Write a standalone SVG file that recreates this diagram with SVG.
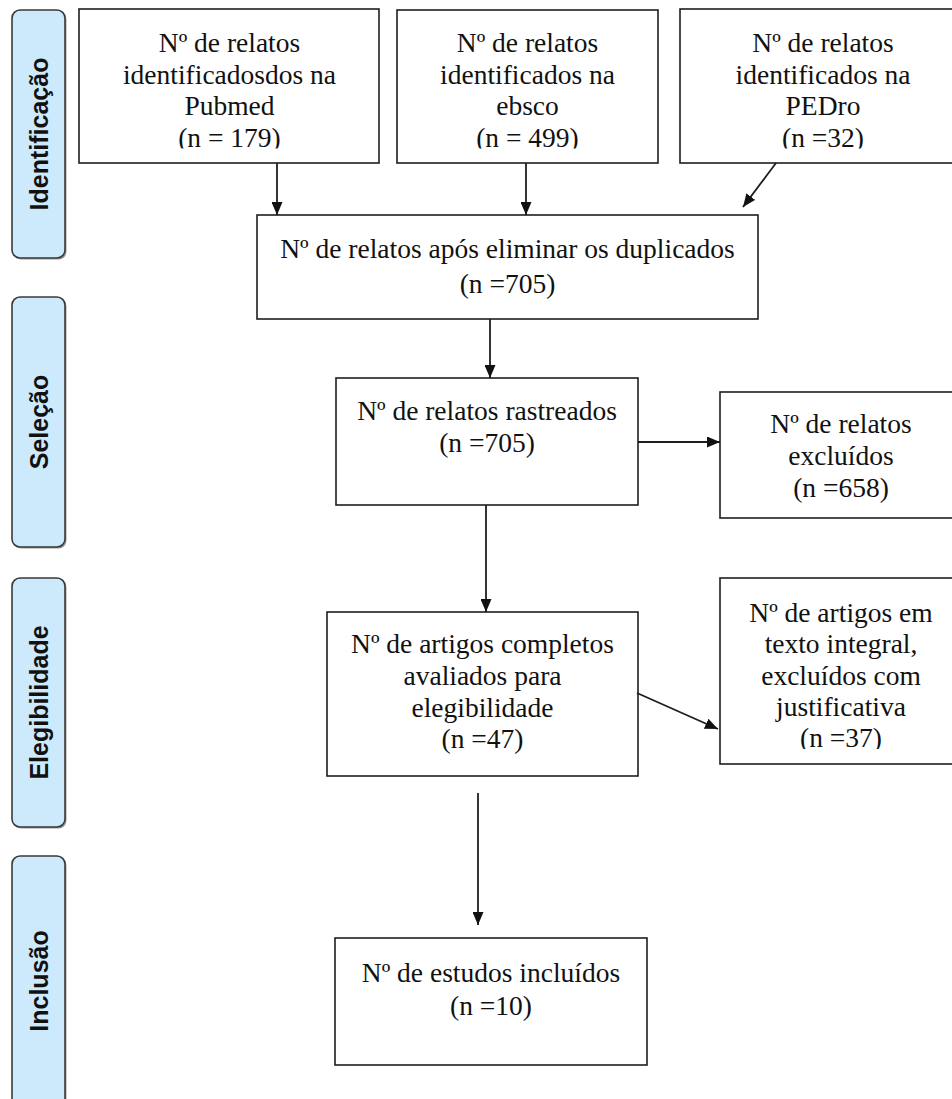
<svg xmlns="http://www.w3.org/2000/svg" width="952" height="1099" viewBox="0 0 952 1099">
<style>
.box{fill:#fff;stroke:#1e1e1e;stroke-width:1.6}
.bar{fill:#cde9fc;stroke:#3a3a3a;stroke-width:1.6}
.shadow{fill:#9a9a9a}
.t{font-family:"Liberation Serif","Times New Roman",serif;font-size:27.5px;fill:#111;text-anchor:middle}
.lbl{font-family:"Liberation Sans",Arial,sans-serif;font-size:25px;font-weight:bold;fill:#111;text-anchor:middle}
.c{stroke:#1e1e1e;stroke-width:1.8;fill:none;marker-end:url(#ah)}
</style>
<defs>
<marker id="ah" markerUnits="userSpaceOnUse" markerWidth="14" markerHeight="11" refX="13" refY="5.5" orient="auto">
<path d="M0,0 L13,5.5 L0,11 z" fill="#111"/>
</marker>
<clipPath id="clipTop"><rect x="0" y="0" width="952" height="148.5"/></clipPath>
<clipPath id="clipInt"><rect x="0" y="570" width="952" height="179"/></clipPath>
</defs>
<rect width="952" height="1099" fill="#fff"/>

<g id="bar-identificacao">
<rect class="shadow" x="13.5" y="11.5" width="53" height="248" rx="8"/>
<rect class="bar" x="12" y="10" width="53" height="248" rx="8"/>
<text class="lbl" transform="translate(48,134) rotate(-90)">Identificação</text>
</g>
<g id="bar-selecao">
<rect class="shadow" x="13.5" y="298.5" width="53" height="250" rx="8"/>
<rect class="bar" x="12" y="297" width="53" height="250" rx="8"/>
<text class="lbl" transform="translate(48,422) rotate(-90)">Seleção</text>
</g>
<g id="bar-elegibilidade">
<rect class="shadow" x="13.5" y="579.5" width="53" height="249" rx="8"/>
<rect class="bar" x="12" y="578" width="53" height="249" rx="8"/>
<text class="lbl" transform="translate(48,702.5) rotate(-90)">Elegibilidade</text>
</g>
<g id="bar-inclusao">
<rect class="shadow" x="13.5" y="857.5" width="53" height="260" rx="8"/>
<rect class="bar" x="12" y="856" width="53" height="260" rx="8"/>
<text class="lbl" transform="translate(48,981) rotate(-90)">Inclusão</text>
</g>

<g id="node-pubmed">
<rect class="box" x="79" y="9" width="300" height="154"/>
<g clip-path="url(#clipTop)">
<text class="t" x="229.5" y="52">Nº de relatos</text>
<text class="t" x="229.5" y="83.5">identificadosdos na</text>
<text class="t" x="229.5" y="115">Pubmed</text>
<text class="t" x="229.5" y="146.5">(n = 179)</text>
</g>
</g>
<g id="node-ebsco">
<rect class="box" x="397" y="10" width="261" height="153"/>
<g clip-path="url(#clipTop)">
<text class="t" x="527.5" y="52">Nº de relatos</text>
<text class="t" x="527.5" y="83.5">identificados na</text>
<text class="t" x="527.5" y="115">ebsco</text>
<text class="t" x="527.5" y="146.5">(n = 499)</text>
</g>
</g>
<g id="node-pedro">
<rect class="box" x="680" y="9" width="290" height="154"/>
<g clip-path="url(#clipTop)">
<text class="t" x="823" y="52">Nº de relatos</text>
<text class="t" x="823" y="83.5">identificados na</text>
<text class="t" x="823" y="115">PEDro</text>
<text class="t" x="823" y="146.5">(n =32)</text>
</g>
</g>
<g id="node-duplicados">
<rect class="box" x="257" y="215" width="501" height="104"/>
<text class="t" x="507.5" y="258">Nº de relatos após eliminar os duplicados</text>
<text class="t" x="507.5" y="293">(n =705)</text>
</g>
<g id="node-rastreados">
<rect class="box" x="336" y="378" width="302" height="127"/>
<text class="t" x="487" y="420">Nº de relatos rastreados</text>
<text class="t" x="487" y="452">(n =705)</text>
</g>
<g id="node-excluidos">
<rect class="box" x="720" y="392" width="250" height="126"/>
<text class="t" x="841" y="433">Nº de relatos</text>
<text class="t" x="841" y="465">excluídos</text>
<text class="t" x="841" y="497">(n =658)</text>
</g>
<g id="node-artigos">
<rect class="box" x="327" y="612" width="311" height="164"/>
<text class="t" x="482.5" y="653">Nº de artigos completos</text>
<text class="t" x="482.5" y="685">avaliados para</text>
<text class="t" x="482.5" y="716.5">elegibilidade</text>
<text class="t" x="482.5" y="748">(n =47)</text>
</g>
<g id="node-excluidos-texto">
<rect class="box" x="720" y="578" width="250" height="186"/>
<g clip-path="url(#clipInt)">
<text class="t" x="841" y="622">Nº de artigos em</text>
<text class="t" x="841" y="653">texto integral,</text>
<text class="t" x="841" y="684.5">excluídos com</text>
<text class="t" x="841" y="715.5">justificativa</text>
<text class="t" x="841" y="747">(n =37)</text>
</g>
</g>
<g id="node-incluidos">
<rect class="box" x="335" y="938" width="312" height="127"/>
<text class="t" x="491" y="982">Nº de estudos incluídos</text>
<text class="t" x="491" y="1015">(n =10)</text>
</g>

<g id="connectors">
<line class="c" x1="277" y1="163" x2="277" y2="215"/>
<line class="c" x1="526" y1="163" x2="526" y2="215"/>
<line class="c" x1="776" y1="163" x2="743" y2="207"/>
<line class="c" x1="490" y1="319" x2="490" y2="378"/>
<line class="c" x1="486" y1="505" x2="486" y2="612"/>
<line class="c" x1="638" y1="442" x2="720" y2="442"/>
<line class="c" x1="637" y1="693" x2="718" y2="729"/>
<line class="c" x1="478" y1="793" x2="478" y2="925"/>
</g>
</svg>
